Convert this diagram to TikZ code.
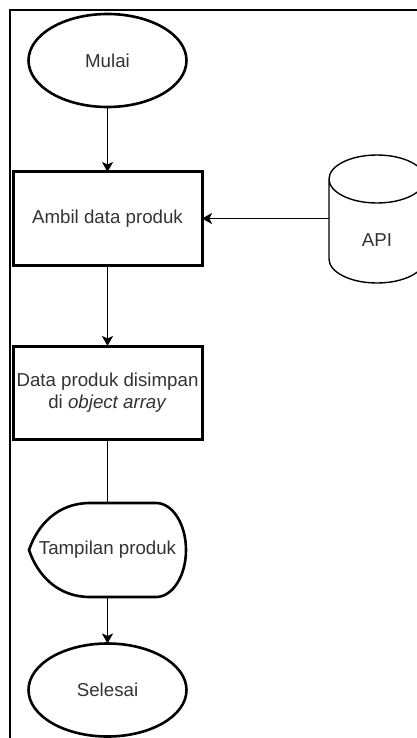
\documentclass[tikz,border=0pt]{standalone}
\usepackage{fontspec}
\setmainfont{Liberation Sans}
\usetikzlibrary{arrows.meta,positioning,shapes.geometric}
\tikzset{
  terminal/.style={ellipse,draw,line width=2.6pt,minimum width=158pt,minimum height=93pt,outer sep=0pt},
  process/.style={rectangle,draw,line width=3pt,minimum width=189pt,minimum height=93pt,align=center,outer sep=0pt},
  display/.style={minimum width=157pt,minimum height=94pt,outer sep=0pt},
  store/.style={minimum width=96pt,outer sep=0pt},
  flow/.style={line width=1.6pt},
  flowchart/.style={
    >={Stealth[length=10pt,width=11pt,inset=2.5pt]},
    every node/.style={font=\fontsize{18.7}{21.5}\selectfont,text=black!80}
  }
}

\begin{document}
\begin{tikzpicture}[flowchart]
  \useasboundingbox (0,0) rectangle (417pt,-738pt);
  \clip (0,0) rectangle (417pt,-738pt);
  \fill[white] (0,0) rectangle (417pt,-738pt);

  % frame
  \draw[line width=2pt] (9.5pt,-800pt) |- (500pt,-10.5pt);

  \node[terminal] (mulai) at (107.5pt,-60.5pt) {Mulai};
  \node[process] (ambil) [below=65pt of mulai] {Ambil data produk};
  \node[process] (simpan) [below=81pt of ambil] {Data produk disimpan\\di \textit{object array}};
  \node[display] (tampil) [below=64pt of simpan] {Tampilan produk};
  \node[terminal] (selesai) [below=46.5pt of tampil] {Selesai};
  \node[store] (api) at (377pt,-240pt) {API};

  % display shape
  \draw[line width=2.6pt,shift={(tampil.center)}]
    (-78.5pt,0) .. controls (-70pt,25pt) and (-50pt,47pt) .. (-17.5pt,47pt)
    -- (48.5pt,47pt) .. controls (65pt,47pt) and (78.5pt,26pt) .. (78.5pt,0)
    .. controls (78.5pt,-26pt) and (65pt,-47pt) .. (48.5pt,-47pt)
    -- (-17.5pt,-47pt) .. controls (-50pt,-47pt) and (-70pt,-25pt) .. cycle;

  % cylinder
  \draw[line width=1.4pt,shift={(api.center)}]
    (0,61pt) ellipse [x radius=48pt,y radius=24pt]
    (-48pt,61pt) -- (-48pt,-19pt) arc[start angle=180,end angle=360,x radius=48pt,y radius=24pt]
    -- (48pt,61pt);

  \path[flow]
    (mulai) edge[->] (ambil)
    (ambil) edge[->] (simpan)
    (simpan) edge (tampil)
    (tampil) edge[->] (selesai)
    (api.west |- ambil.east) edge[->] (ambil.east)
    ;
\end{tikzpicture}
\end{document}
